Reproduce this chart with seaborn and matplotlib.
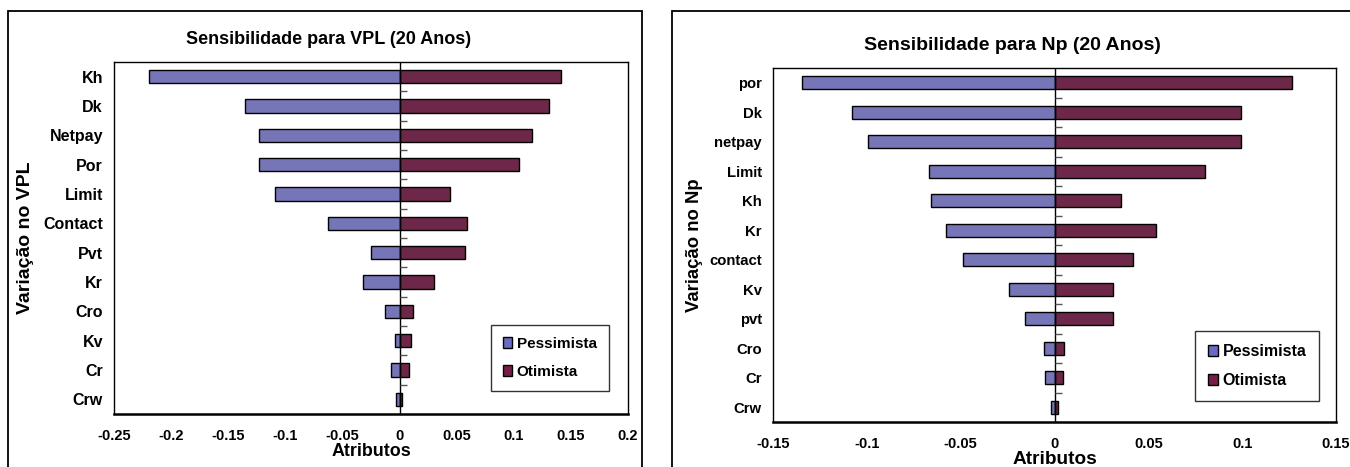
import numpy as np
import pandas as pd
import seaborn as sns
import matplotlib.pyplot as plt
from matplotlib.patches import Rectangle, Patch

# Left chart: sensitivity of VPL
vpl_attrs = ["Kh", "Dk", "Netpay", "Por", "Limit", "Contact", "Pvt", "Kr", "Cro", "Kv", "Cr", "Crw"]
vpl_pess = [-0.219, -0.135, -0.123, -0.123, -0.109, -0.063, -0.025, -0.032, -0.013, -0.004, -0.0075, -0.003]
vpl_otim = [0.141, 0.131, 0.116, 0.105, 0.044, 0.059, 0.0575, 0.030, 0.012, 0.010, 0.008, 0.0025]
vpl_ticks = [-0.25, -0.2, -0.15, -0.1, -0.05, 0, 0.05, 0.1, 0.15, 0.2]

# Right chart: sensitivity of Np
np_attrs = ["por", "Dk", "netpay", "Limit", "Kh", "Kr", "contact", "Kv", "pvt", "Cro", "Cr", "Crw"]
np_pess = [-0.1345, -0.108, -0.0993, -0.067, -0.0656, -0.0578, -0.0486, -0.024, -0.0157, -0.0058, -0.0048, -0.0016]
np_otim = [0.1266, 0.0993, 0.0993, 0.080, 0.0357, 0.054, 0.042, 0.031, 0.031, 0.0052, 0.0046, 0.0016]
np_ticks = [-0.15, -0.1, -0.05, 0, 0.05, 0.1, 0.15]

scenarios = ["Pessimista", "Otimista"]
colors = {"Pessimista": "#6a6ac2", "Otimista": "#781d48"}

sns.set_style("white")
plt.rcParams["font.family"] = ["Liberation Sans", "DejaVu Sans"]
plt.rcParams["font.weight"] = "bold"
plt.rcParams["text.color"] = "black"
plt.rcParams["axes.labelcolor"] = "black"
plt.rcParams["xtick.color"] = "black"
plt.rcParams["ytick.color"] = "black"

W, H = 1350, 467
fig = plt.figure(figsize=(W / 100, H / 100), dpi=100)

# outer chart-area boxes
for x0, x1 in [(8, 642), (672, 1365)]:
    fig.patches.append(Rectangle((x0 / W, -0.02), (x1 - x0) / W, 1.02 - 11 / H,
                                 transform=fig.transFigure, fill=False,
                                 edgecolor="black", linewidth=1.3))


def tornado(rect, attrs, pess, otim, ticks, title, title_xy, ylabel, ylab_x,
            cat_size, title_size, xlab_size, ylab_size, leg_size, leg_anchor):
    l, t, r, b = rect
    ax = fig.add_axes([l / W, 1 - b / H, (r - l) / W, (b - t) / H])
    df = pd.DataFrame({
        "attr": attrs * 2,
        "valor": pess + otim,
        "cenario": ["Pessimista"] * len(attrs) + ["Otimista"] * len(attrs),
    })
    sns.barplot(data=df, x="valor", y="attr", hue="cenario", hue_order=scenarios,
                palette=colors, dodge=False, orient="h", width=0.45,
                edgecolor="black", linewidth=1.0, legend=False, ax=ax)
    ax.axvline(0, color="black", linewidth=1.0, zorder=3)
    # little marks on the zero line between categories
    bounds = np.arange(len(attrs) - 1) + 0.5
    ax.plot(np.zeros(len(bounds)), bounds, ls="none", marker=1, ms=5,
            color="#555555", markeredgewidth=1.0, zorder=3)
    ax.set_xlim(ticks[0], ticks[-1])
    ax.set_ylim(len(attrs) - 0.5, -0.5)
    ax.set_xticks(ticks)
    ax.set_xticklabels([f"{v:g}" for v in ticks], fontsize=10.5, fontweight="bold")
    ax.tick_params(axis="x", direction="in", length=4, width=1, pad=11, colors="black")
    ax.tick_params(axis="y", length=0, pad=8, labelsize=cat_size, colors="black")
    for lab in ax.get_yticklabels():
        lab.set_fontweight("bold")
    for s in ax.spines.values():
        s.set_visible(True)
        s.set_color("black")
        s.set_linewidth(1.0)
    ax.spines["bottom"].set_linewidth(1.8)
    ax.set_xlabel("Atributos", fontsize=xlab_size, fontweight="bold", labelpad=0)
    ax.set_ylabel(ylabel, fontsize=ylab_size, fontweight="bold")
    ax.yaxis.set_label_coords(ylab_x, 0.5)
    fig.text(title_xy[0] / W, 1 - title_xy[1] / H, title, fontsize=title_size,
             fontweight="bold", ha="center", va="center")
    handles = [Patch(facecolor=colors[s], edgecolor="black", linewidth=1.0) for s in scenarios]
    leg = ax.legend(handles, scenarios, loc="lower right", bbox_to_anchor=leg_anchor,
                    fancybox=False, frameon=True, edgecolor="black",
                    prop={"size": leg_size, "weight": "bold"},
                    handlelength=0.6, handleheight=0.7, handletextpad=0.3,
                    labelspacing=0.9, borderpad=0.8, borderaxespad=0)
    leg.get_frame().set_linewidth(1.0)
    return ax


tornado((114, 62, 628, 414), vpl_attrs, vpl_pess, vpl_otim, vpl_ticks,
        "Sensibilidade para VPL (20 Anos)", (329, 40), "Variação no VPL", -0.156,
        11.5, 13, 12.9, 14, 11, (0.963, 0.065))
tornado((773, 68, 1336, 422), np_attrs, np_pess, np_otim, np_ticks,
        "Sensibilidade para Np (20 Anos)", (1012, 46), "Variação no Np", -0.125,
        10.7, 14, 13.7, 13.3, 11.5, (0.970, 0.059))

fig.savefig("out.png", dpi=100)
